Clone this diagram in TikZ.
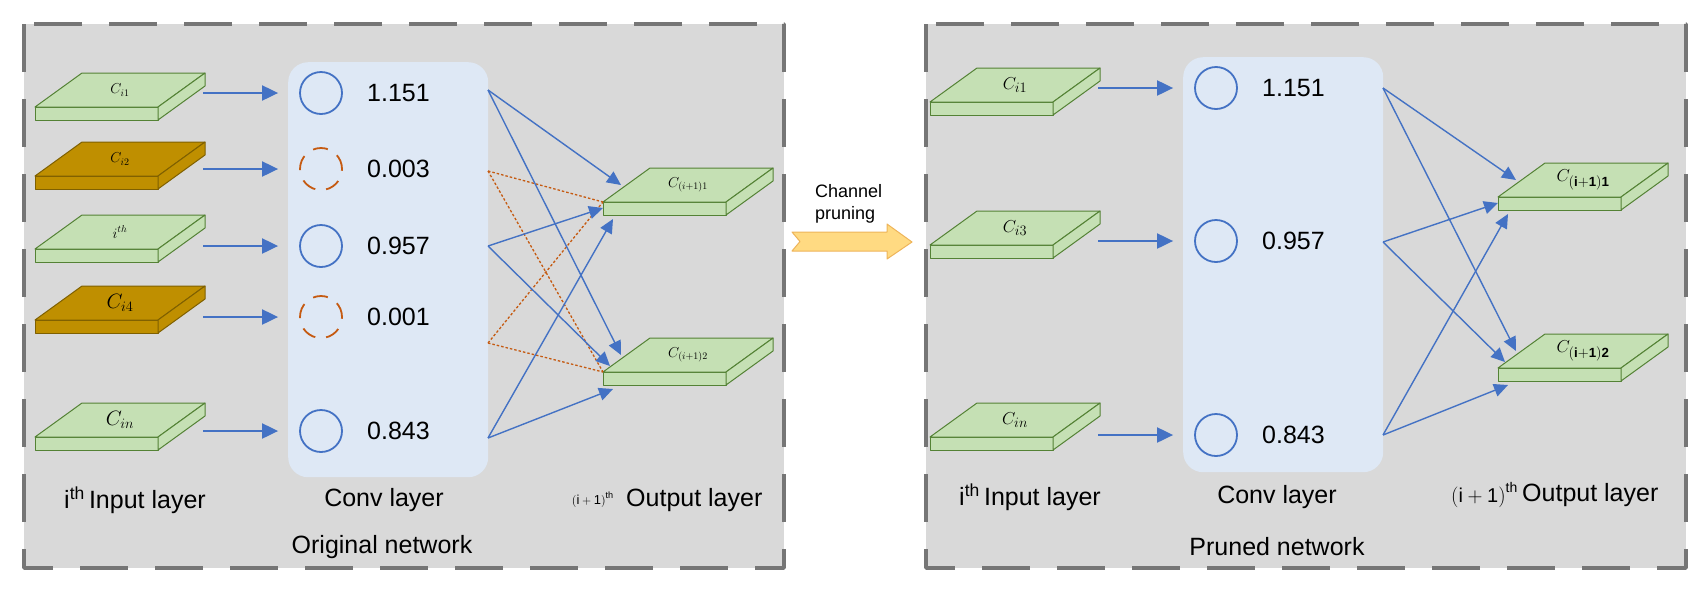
\documentclass[tikz,border=0pt]{standalone}
\usepackage{fontspec}
\setmainfont{Liberation Sans}
\usetikzlibrary{arrows.meta}

\definecolor{hgrau}{RGB}{217,217,217}
\definecolor{rgrau}{RGB}{118,118,118}
\definecolor{hblau}{RGB}{222,232,245}
\definecolor{kblau}{RGB}{68,114,196}
\definecolor{korange}{RGB}{197,90,17}
\definecolor{pgruen}{RGB}{197,224,180}
\definecolor{pgruenR}{RGB}{84,130,53}
\definecolor{pbraun}{RGB}{191,143,0}
\definecolor{pbraunR}{RGB}{127,96,0}
\definecolor{pfgelb}{RGB}{255,218,130}
\definecolor{pfrand}{RGB}{238,180,90}

\begin{document}
\begin{tikzpicture}[x=1pt, y=-1pt, line join=round,
  rahmen/.style={fill=hgrau, draw=rgrau, line width=3.5pt, dash pattern=on 48pt off 27pt},
  convbox/.style={fill=hblau, rounded corners=20pt, anchor=north west, minimum width=200pt, inner sep=0pt},
  kanal/.style={circle, draw=kblau, line width=1.8pt, minimum size=42pt, inner sep=0pt},
  kanalweg/.style={kanal, draw=korange, dash pattern=on 15pt off 11pt},
  eingang/.style={-{Triangle[length=16pt,width=15pt]}, draw=kblau, line width=2pt, shorten >=21pt},
  ausgang/.style={-{Triangle[length=14pt,width=13pt]}, draw=kblau, line width=1.4pt},
  entfernt/.style={draw=korange, line width=1.3pt, dash pattern=on 2.5pt off 2pt},
  wert/.style={font=\fontsize{25}{28}\selectfont, anchor=west, inner sep=0pt},
  titel/.style={font=\fontsize{25}{28}\selectfont, inner sep=0pt},
  klein/.style={font=\fontsize{14}{16}\selectfont, inner sep=0pt},
  mittel/.style={font=\fontsize{19}{21}\selectfont, inner sep=0pt},
  gross/.style={font=\fontsize{21}{23}\selectfont, inner sep=0pt}]

\useasboundingbox (0,0) rectangle (1707,590);

% Platte: Name, x, y (vordere Kante oben links), Fuellung, Rand, Stil, Text
\def\platte#1#2#3#4#5#6#7{
\begin{scope}[fill=#4, draw=#5, line width=1pt]
\filldraw (#2,#3) rectangle ++(123,13);
\filldraw (#2,#3) -- ++(47,-34) -- ++(123,0) -- ++(-47,34) -- cycle;
\filldraw ({#2+123},#3) -- ++(47,-34) -- ++(0,13) -- ++(-47,34) -- cycle;
\end{scope}
\coordinate (#1-tl) at (#2,#3);
\coordinate (#1-r) at ({#2+168},{#3-12});
\coordinate (#1-o) at ({#2+18},{#3-17});
\coordinate (#1-k) at ({#2+7},{#3-6});
\coordinate (#1-m) at ({#2},{#3+6});
\coordinate (#1-u) at ({#2+10},{#3+17});
\node[#6] (#1) at ({#2+85},{#3-17}) {#7};
}

% linkes Netz
\draw[rahmen] (24,24) rectangle (784,568);
\node[convbox, minimum height=415pt] (conv1) at (288,62) {};

\platte{e1}{35}{107}{pgruen}{pgruenR}{klein}{$C_{i1}$}
\platte{e2}{35}{176}{pbraun}{pbraunR}{klein}{$C_{i2}$}
\platte{e3}{35}{249}{pgruen}{pgruenR}{klein}{$i^{th}$}
\platte{e4}{35}{320}{pbraun}{pbraunR}{gross}{$C_{i4}$}
\platte{e5}{35}{437}{pgruen}{pgruenR}{gross}{$C_{in}$}

\node[kanal] (k1) at (321,93) {};
\node[kanalweg] (k2) at (321,169) {};
\node[kanal] (k3) at (321,246) {};
\node[kanalweg] (k4) at (321,317) {};
\node[kanal] (k5) at (321,431) {};

\foreach \i/\w in {1/1.151,2/0.003,3/0.957,4/0.001,5/0.843}{
  \draw[eingang] (e\i-r |- k\i) -- (k\i.west);
  \node[wert] (w\i) at ([xshift=46pt]k\i.center) {\w};
}

\platte{a1}{603}{202}{pgruen}{pgruenR}{klein}{$C_{(i+1)1}$}
\platte{a2}{603}{372}{pgruen}{pgruenR}{klein}{$C_{(i+1)2}$}

\coordinate (s1) at (488,90);
\coordinate (s2) at (488,171);
\coordinate (s3) at (488,246);
\coordinate (s4) at (488,343);
\coordinate (s5) at (488,438);

\foreach \i in {2,4}{
  \draw[entfernt] (s\i) -- (a1-tl);
  \draw[entfernt] (s\i) -- (a2-tl);
}
\draw[ausgang] (s1) -- (a1-o);
\draw[ausgang] (s1) -- (a2-o);
\draw[ausgang] (s3) -- (a1-m);
\draw[ausgang] (s3) -- (a2-k);
\draw[ausgang] (s5) -- (a1-u);
\draw[ausgang] (s5) -- (a2-u);

\node[titel] (il1) at (135,500) {$\mathrm{i}^{\mathrm{th}}$\,Input layer};
\node[titel] (cl1) at (384,500) {Conv layer};
\node[titel, anchor=west] (ol1) at (626,500) {Output layer};
\node[font=\fontsize{13}{15}\selectfont, anchor=east, inner sep=0pt] (on1) at (614,500) {$\mathrm{(i+1)}^{\mathrm{th}}$};
\node[titel] (nw1) at (382,547) {Original network};

% Pfeil dazwischen
\filldraw[fill=pfgelb, draw=pfrand, line width=1pt] (792,232) -- (887,232) -- (887,224) -- (912,242)
  -- (887,259) -- (887,251) -- (792,251) -- (800,241.5) -- cycle;
\node[font=\fontsize{18}{22}\selectfont, align=left, anchor=west, inner sep=0pt] (cp) at (815,204) {Channel\\pruning};

% rechtes Netz
\draw[rahmen] (926,24) rectangle (1686,568);
\node[convbox, minimum height=415pt] (conv2) at (1183,57) {};

\platte{f1}{930}{102}{pgruen}{pgruenR}{mittel}{$C_{i1}$}
\platte{f2}{930}{245}{pgruen}{pgruenR}{mittel}{$C_{i3}$}
\platte{f3}{930}{437}{pgruen}{pgruenR}{mittel}{$C_{in}$}

\node[kanal] (q1) at (1216,88) {};
\node[kanal] (q2) at (1216,241) {};
\node[kanal] (q3) at (1216,435) {};

\foreach \i/\w in {1/1.151,2/0.957,3/0.843}{
  \draw[eingang] (f\i-r |- q\i) -- (q\i.west);
  \node[wert] (v\i) at ([xshift=46pt]q\i.center) {\w};
}

\platte{b1}{1498}{197}{pgruen}{pgruenR}{mittel}{$C_{\mathbf{(i+1)1}}$}
\platte{b2}{1498}{368}{pgruen}{pgruenR}{mittel}{$C_{\mathbf{(i+1)2}}$}

\coordinate (r1) at (1383,88);
\coordinate (r2) at (1383,242);
\coordinate (r3) at (1383,435);

\draw[ausgang] (r1) -- (b1-o);
\draw[ausgang] (r1) -- (b2-o);
\draw[ausgang] (r2) -- (b1-m);
\draw[ausgang] (r2) -- (b2-k);
\draw[ausgang] (r3) -- (b1-u);
\draw[ausgang] (r3) -- (b2-u);

\node[titel] (il2) at (1030,497) {$\mathrm{i}^{\mathrm{th}}$\,Input layer};
\node[titel] (cl2) at (1277,497) {Conv layer};
\node[titel, anchor=west] (ol2) at (1522,495) {Output layer};
\node[font=\fontsize{20}{22}\selectfont, anchor=east, inner sep=0pt] (on2) at (1518,495) {$\mathrm{(i+1)}^{\mathrm{th}}$};
\node[titel] (nw2) at (1277,547) {Pruned network};

\end{tikzpicture}
\end{document}
